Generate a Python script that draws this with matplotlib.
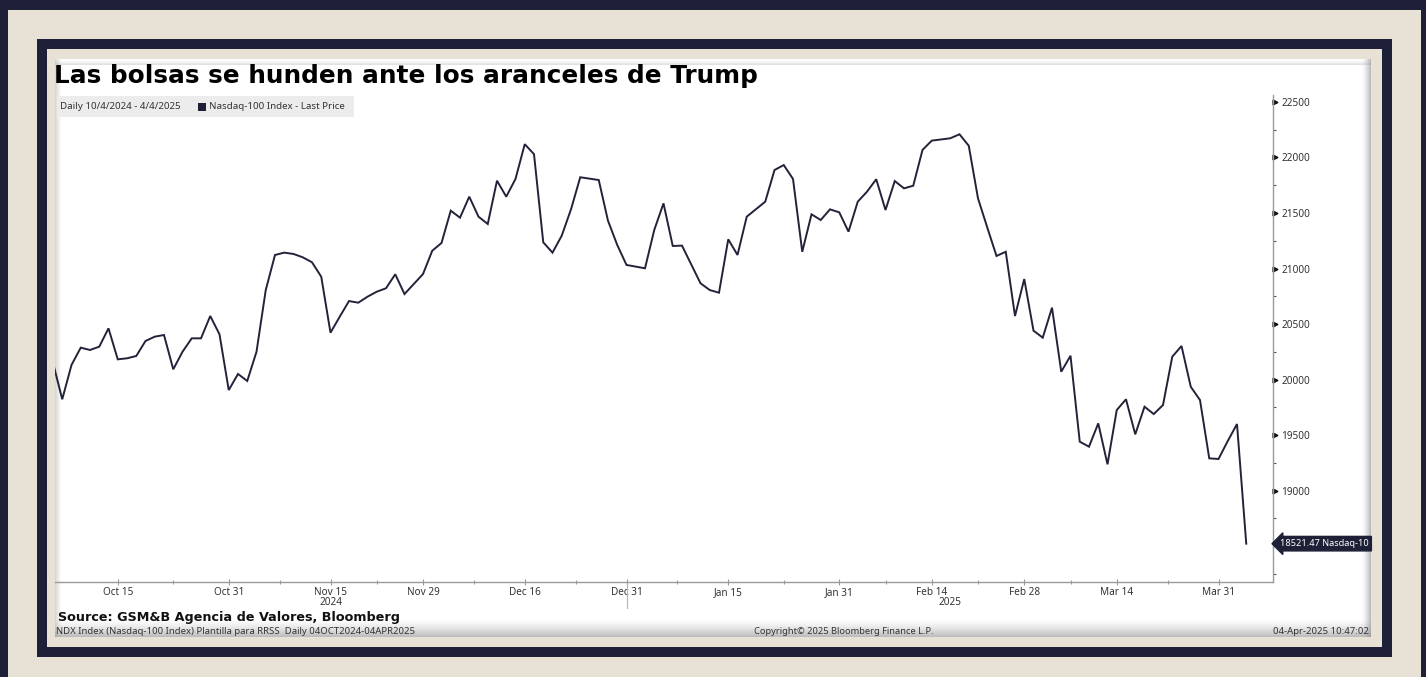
import numpy as np
import matplotlib.pyplot as plt
from matplotlib.patches import Rectangle
from matplotlib.transforms import blended_transform_factory

W, H = 1426, 677
NAVY = "#1e2038"
BEIGE = "#e8e1d5"
LINE = "#22233a"
GREY = "#333333"

title = "Las bolsas se hunden ante los aranceles de Trump"
legend_range = "Daily 10/4/2024 - 4/4/2025"
legend_series = "Nasdaq-100 Index - Last Price"
source = "Source: GSM&B Agencia de Valores, Bloomberg"
footer_left = "NDX Index (Nasdaq-100 Index) Plantilla para RRSS  Daily 04OCT2024-04APR2025"
footer_mid = "Copyright\u00a9 2025 Bloomberg Finance L.P."
footer_right = "04-Apr-2025 10:47:02"
last_label = "18521.47 Nasdaq-10"

dates = [
    "2024-10-04", "2024-10-07", "2024-10-08", "2024-10-09", "2024-10-10", "2024-10-11",
    "2024-10-14", "2024-10-15", "2024-10-16", "2024-10-17", "2024-10-18",
    "2024-10-21", "2024-10-22", "2024-10-23", "2024-10-24", "2024-10-25",
    "2024-10-28", "2024-10-29", "2024-10-30", "2024-10-31", "2024-11-01",
    "2024-11-04", "2024-11-05", "2024-11-06", "2024-11-07", "2024-11-08",
    "2024-11-11", "2024-11-12", "2024-11-13", "2024-11-14", "2024-11-15",
    "2024-11-18", "2024-11-19", "2024-11-20", "2024-11-21", "2024-11-22",
    "2024-11-25", "2024-11-26", "2024-11-27", "2024-11-29",
    "2024-12-02", "2024-12-03", "2024-12-04", "2024-12-05", "2024-12-06",
    "2024-12-09", "2024-12-10", "2024-12-11", "2024-12-12", "2024-12-13",
    "2024-12-16", "2024-12-17", "2024-12-18", "2024-12-19", "2024-12-20",
    "2024-12-23", "2024-12-24", "2024-12-26", "2024-12-27",
    "2024-12-30", "2024-12-31", "2025-01-02", "2025-01-03",
    "2025-01-06", "2025-01-07", "2025-01-08", "2025-01-10",
    "2025-01-13", "2025-01-14", "2025-01-15", "2025-01-16", "2025-01-17",
    "2025-01-21", "2025-01-22", "2025-01-23", "2025-01-24",
    "2025-01-27", "2025-01-28", "2025-01-29", "2025-01-30", "2025-01-31",
    "2025-02-03", "2025-02-04", "2025-02-05", "2025-02-06", "2025-02-07",
    "2025-02-10", "2025-02-11", "2025-02-12", "2025-02-13", "2025-02-14",
    "2025-02-18", "2025-02-19", "2025-02-20", "2025-02-21",
    "2025-02-24", "2025-02-25", "2025-02-26", "2025-02-27", "2025-02-28",
    "2025-03-03", "2025-03-04", "2025-03-05", "2025-03-06", "2025-03-07",
    "2025-03-10", "2025-03-11", "2025-03-12", "2025-03-13", "2025-03-14",
    "2025-03-17", "2025-03-18", "2025-03-19", "2025-03-20", "2025-03-21",
    "2025-03-24", "2025-03-25", "2025-03-26", "2025-03-27", "2025-03-28",
    "2025-03-31", "2025-04-01", "2025-04-02", "2025-04-03",
]
close = [
    20150, 19822, 20131, 20287, 20266, 20296,
    20461, 20182, 20191, 20212, 20347,
    20386, 20401, 20092, 20250, 20371,
    20371, 20572, 20407, 19905, 20050,
    19987, 20250, 20806, 21122, 21143,
    21131, 21101, 21056, 20926, 20422,
    20566, 20707, 20692, 20746, 20791,
    20822, 20948, 20770, 20950,
    21160, 21230, 21521, 21458, 21647,
    21467, 21401, 21791, 21647, 21807,
    22120, 22030, 21236, 21143, 21296,
    21533, 21822, 21797, 21430,
    21212, 21032, 21002, 21347,
    21587, 21203, 21206, 20867,
    20806, 20782, 21263, 21122, 21467,
    21602, 21887, 21932, 21807,
    21151, 21488, 21437, 21533, 21506,
    21332, 21602, 21692, 21804, 21527,
    21788, 21722, 21746, 22068, 22152,
    22173, 22209, 22106, 21632,
    21370, 21113, 21151, 20572, 20905,
    20440, 20377, 20647, 20070, 20214,
    19440, 19395, 19605, 19236, 19725,
    19822, 19506, 19755, 19689, 19770,
    20205, 20302, 19935, 19815, 19290,
    19284, 19446, 19599, 18521.47,
]

tick_dates = ["2024-10-15", "2024-10-31", "2024-11-15", "2024-11-29", "2024-12-16", "2024-12-31",
              "2025-01-15", "2025-01-31", "2025-02-14", "2025-02-28", "2025-03-14", "2025-03-31"]
tick_labels = ["Oct 15", "Oct 31", "Nov 15", "Nov 29", "Dec 16", "Dec 31",
               "Jan 15", "Jan 31", "Feb 14", "Feb 28", "Mar 14", "Mar 31"]
year_labels = {"2024": "2024-11-15", "2025": "2025-02-18"}
year_break = "2024-12-31"
y_ticks = [19000, 19500, 20000, 20500, 21000, 21500, 22000, 22500]

start = "2024-10-04"


def wd(d):
    # position on a weekday axis (Bloomberg skips weekends, keeps holidays)
    return np.busday_count(start, d)


def fig_rect(x0, y0, x1, y1, **kw):
    r = Rectangle((x0 / W, 1 - y1 / H), (x1 - x0) / W, (y1 - y0) / H,
                  transform=fig.transFigure, **kw)
    fig.add_artist(r)
    return r


x = np.array([wd(d) for d in dates])
y = np.array(close)

plt.rcParams["font.family"] = "Noto Sans"

fig = plt.figure(figsize=(W / 100, H / 100), dpi=100, facecolor=BEIGE)

# frames
fig_rect(0, 0, W, 10, fc=NAVY, ec="none")
fig_rect(0, 0, 8, H, fc=NAVY, ec="none")
fig_rect(1421, 0, W, H, fc=NAVY, ec="none")
fig_rect(37, 39, 1392, 657, fc=NAVY, ec="none")
fig_rect(47, 49, 1382, 647, fc=BEIGE, ec="none")
fig_rect(55, 59, 1371, 637, fc="white", ec="none")

# soft shadow on the white panel
sh = fig.add_axes([0, 0, 1, 1], zorder=1.5)
sh.set_xlim(0, W)
sh.set_ylim(H, 0)
sh.axis("off")
ramp = np.zeros((20, 1, 4))
ramp[..., :3] = 0.55
ramp[:, 0, 3] = np.linspace(0, 0.7, 20) ** 1.5
sh.imshow(ramp, extent=(55, 1371, 637, 618), aspect="auto", interpolation="bilinear")
rampr = np.zeros((1, 10, 4))
rampr[..., :3] = 0.55
rampr[0, :, 3] = np.linspace(0, 0.7, 10) ** 1.5
sh.imshow(rampr, extent=(1361, 1371, 637, 59), aspect="auto", interpolation="bilinear")
rampl = np.zeros((1, 8, 4))
rampl[..., :3] = 0.55
rampl[0, :, 3] = np.linspace(0.5, 0, 8) ** 1.5
sh.imshow(rampl, extent=(55, 63, 637, 59), aspect="auto", interpolation="bilinear")
rampt = np.zeros((6, 1, 4))
rampt[..., :3] = 0.55
rampt[:, 0, 3] = np.linspace(0.4, 0, 6) ** 1.5
sh.imshow(rampt, extent=(55, 1371, 59, 65), aspect="auto", interpolation="bilinear")

# plot area
ax_l, ax_r, ax_t, ax_b = 55, 1273, 95, 582
ax = fig.add_axes([ax_l / W, 1 - ax_b / H, (ax_r - ax_l) / W, (ax_b - ax_t) / H], zorder=2)
ax.set_facecolor("none")
ax.plot(x, y, color=LINE, lw=1.4, solid_joinstyle="miter")
ax.set_xlim((ax_l - 53) / 9.25, (ax_r - 53) / 9.25)
ax.set_ylim(18176, 22563)

for s in ["top", "left"]:
    ax.spines[s].set_visible(False)
for s in ["bottom", "right"]:
    ax.spines[s].set_color("#9a9a9a")
    ax.spines[s].set_linewidth(1.0)

major_x = np.array([wd(d) for d in tick_dates])
ax.set_xticks(major_x)
ax.set_xticklabels(tick_labels)
ax.set_xticks((major_x[:-1] + major_x[1:]) / 2, minor=True)
ax.tick_params(axis="x", which="major", direction="inout", length=5, width=0.8,
               color="#9a9a9a", labelsize=7.2, labelcolor=GREY, pad=1)
ax.tick_params(axis="x", which="minor", direction="inout", length=3, width=0.8, color="#9a9a9a")

ax.yaxis.tick_right()
ax.set_yticks(y_ticks)
ax.set_yticks(np.arange(18250, 22600, 250), minor=True)
ax.tick_params(axis="y", which="major", direction="out", length=3, width=1.2,
               color="#222222", labelsize=7.2, labelcolor=GREY, pad=3)
ax.tick_params(axis="y", which="minor", direction="out", length=2.5, width=0.8, color="#555555")
ytr = blended_transform_factory(ax.transAxes, ax.transData)
ax.plot(np.full(len(y_ticks), 1.002), y_ticks, ls="none", marker=">", ms=3.5,
        color="#111111", transform=ytr, clip_on=False)

# year labels and separator
xtr = blended_transform_factory(ax.transData, ax.transAxes)
for lab, d in year_labels.items():
    ax.text(wd(d), -0.043, lab, transform=xtr, ha="center", va="center",
            fontsize=7.2, color=GREY)
ax.plot([wd(year_break)] * 2, [0, -26 / (ax_b - ax_t)], color="#b5b5b5", lw=0.8,
        transform=xtr, clip_on=False)

# last price tag
ax.text((1280 - ax_l) / (ax_r - ax_l), y[-1], last_label, transform=ytr, ha="left", va="center",
        fontsize=6.6, color="white", clip_on=False,
        bbox=dict(boxstyle="larrow,pad=0.3", fc=NAVY, ec=NAVY))

# legend strip
fig_rect(57, 96, 354, 117, fc="#ececec", ec="none", zorder=3)
fig.text(60 / W, 1 - 106.5 / H, legend_range, fontsize=7, color=GREY, va="center", zorder=4)
fig_rect(198, 103, 206, 111, fc=NAVY, ec="none", zorder=4)
fig.text(209 / W, 1 - 106.5 / H, legend_series, fontsize=7, color=GREY, va="center", zorder=4)

# texts
fig.text(54 / W, 1 - 76 / H, title, fontsize=17.8, fontweight="bold", color="black",
         family="DejaVu Sans", va="center")
fig.text(58 / W, 1 - 617 / H, source, fontsize=9.2, fontweight="bold", color="#111111",
         family="DejaVu Sans", va="center", zorder=4)
fig.text(56 / W, 1 - 632 / H, footer_left, fontsize=6.9, color=GREY, va="center", zorder=4)
fig.text(844 / W, 1 - 632 / H, footer_mid, fontsize=6.7, color=GREY, va="center", ha="center", zorder=4)
fig.text(1369 / W, 1 - 632 / H, footer_right, fontsize=6.9, color=GREY, va="center", ha="right", zorder=4)

fig.savefig("out.png", dpi=100, facecolor=BEIGE)
